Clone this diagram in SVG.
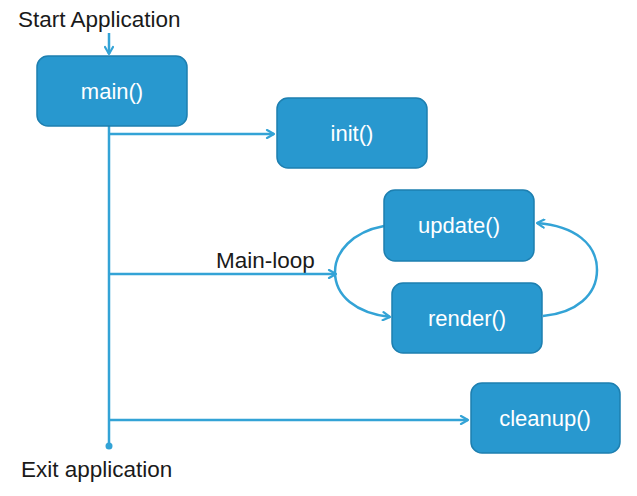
<svg xmlns="http://www.w3.org/2000/svg" width="637" height="496" viewBox="0 0 637 496">
<defs>
<style>
.box{fill:#2898cf;stroke:#1d7fb0;stroke-width:1.5}
.lbl{font-family:"Liberation Sans",Arial,sans-serif;font-size:22px;fill:#ffffff;text-anchor:middle}
.txt{font-family:"Liberation Sans",Arial,sans-serif;font-size:22.5px;fill:#1a1a1a}
.ln{fill:none;stroke:#33a3d6;stroke-width:2.5}
</style>
<marker id="ah" viewBox="0 0 10 10" refX="9" refY="5" markerWidth="10" markerHeight="10" markerUnits="userSpaceOnUse" orient="auto">
<path d="M2,1 L9,5 L2,9" fill="none" stroke="#33a3d6" stroke-width="2.2" stroke-linecap="round" stroke-linejoin="round"/>
</marker>
</defs>
<rect width="637" height="496" fill="#ffffff"/>
<g id="labels">
<text class="txt" x="18" y="27">Start Application</text>
<text class="txt" x="216" y="268">Main-loop</text>
<text class="txt" x="21" y="477">Exit application</text>
</g>
<g id="connectors">
<line class="ln" x1="109" y1="33" x2="109" y2="54" marker-end="url(#ah)"/>
<line class="ln" x1="109" y1="126" x2="109" y2="445"/>
<circle cx="109" cy="446" r="3.5" fill="#33a3d6"/>
<line class="ln" x1="109" y1="134" x2="274" y2="134" marker-end="url(#ah)"/>
<line class="ln" x1="109" y1="274" x2="336" y2="274" marker-end="url(#ah)"/>
<line class="ln" x1="109" y1="420" x2="468" y2="420" marker-end="url(#ah)"/>
<path class="ln" d="M384,226 C352,232 335,252 335,272 C335,296 356,313 390,317" marker-end="url(#ah)"/>
<path class="ln" d="M543,316 C576,313 597,295 597,270 C597,244 575,226 537,223" marker-end="url(#ah)"/>
</g>
<g id="main">
<rect class="box" x="37" y="56" width="150" height="70" rx="11"/>
<text class="lbl" x="112" y="99">main()</text>
</g>
<g id="init">
<rect class="box" x="277" y="98" width="150" height="70" rx="11"/>
<text class="lbl" x="352" y="141">init()</text>
</g>
<g id="update">
<rect class="box" x="384" y="190" width="150" height="71" rx="11"/>
<text class="lbl" x="459" y="233">update()</text>
</g>
<g id="render">
<rect class="box" x="392" y="283" width="150" height="70" rx="11"/>
<text class="lbl" x="467" y="326">render()</text>
</g>
<g id="cleanup">
<rect class="box" x="471" y="383" width="149" height="70" rx="11"/>
<text class="lbl" x="545" y="426">cleanup()</text>
</g>
</svg>
